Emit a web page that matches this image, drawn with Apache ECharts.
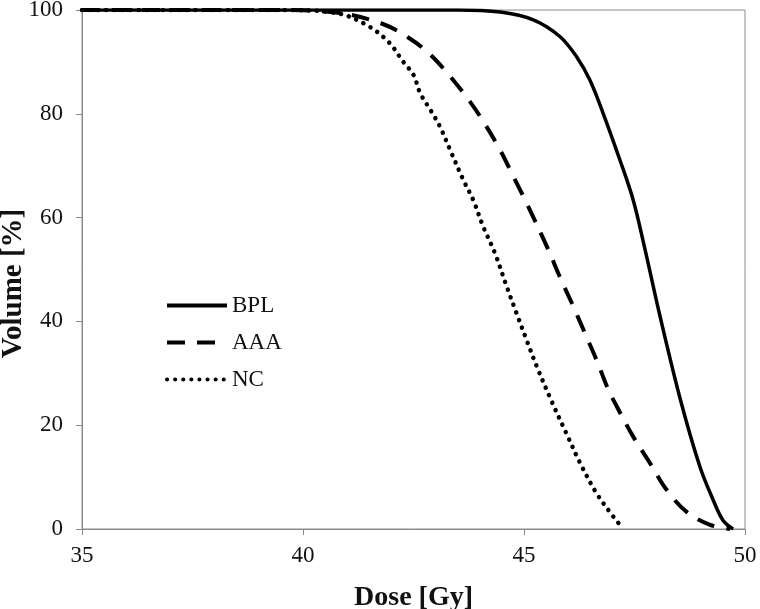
<!DOCTYPE html>
<html>
<head>
<meta charset="utf-8">
<script src="https://cdn.jsdelivr.net/npm/echarts@6/dist/echarts.min.js"></script>
<style>html,body{margin:0;padding:0;background:#fff}#c{width:760px;height:609px}</style>
</head>
<body>
<div id="c"></div>
<script>
const xTicks = [35, 40, 45, 50];
const yTicks = [0, 20, 40, 60, 80, 100];
const seriesNames = ['BPL', 'AAA', 'NC'];

const doseBPL = [35, 43.5, 44.46, 45.21, 45.81, 46.19, 46.49, 46.79, 47.17, 47.47, 47.74, 48.08, 48.53, 48.98, 49.28, 49.50, 49.73];
const volBPL  = [100, 100, 99.6, 98.1, 94.9, 91.0, 86.5, 80.1, 71.1, 63.4, 53.8, 40.9, 25.2, 12.0, 5.6, 1.7, 0];

const doseAAA = [35, 39.5, 40.84, 41.78, 42.38, 42.87, 43.29, 43.72, 44.06, 44.46, 44.76, 45.06, 45.55, 45.81, 46.12, 46.38, 46.64, 46.91, 47.10, 47.47, 47.85, 48.23, 48.68, 49.21, 49.66];
const volAAA  = [100, 100, 99.4, 97.4, 94.7, 91.5, 87.6, 83.0, 78.8, 73.0, 67.9, 62.8, 53.8, 48.6, 42.8, 37.7, 32.6, 26.8, 23.6, 17.8, 12.7, 7.5, 3.3, 0.8, 0];

const doseNC = [35, 39.5, 40.76, 41.44, 41.93, 42.27, 42.50, 42.65, 42.90, 43.10, 43.33, 43.63, 43.85, 44.08, 44.34, 44.61, 44.83, 45.06, 45.29, 45.62, 45.96, 46.27, 46.64, 47.02, 47.25];
const volNC  = [100, 100, 99.4, 97.1, 93.9, 90.0, 87.5, 84.0, 80.5, 77.5, 73.0, 67.2, 63.4, 58.2, 53.2, 46.7, 41.6, 36.4, 31.3, 24.7, 18.4, 12.7, 6.9, 2.4, 0];

function pairs(xs, ys) { return xs.map((x, i) => [x, ys[i]]); }

const font = '"Liberation Serif", "Times New Roman", serif';
const chart = echarts.init(document.getElementById('c'), null, { renderer: 'canvas' });
chart.setOption({
  animation: false,
  backgroundColor: '#fff',
  grid: { left: 82, right: 15, top: 10, bottom: 80, show: true, borderColor: '#8a8a8a', borderWidth: 1, containLabel: false, outerBoundsMode: 'none' },
  legend: {
    orient: 'vertical', left: 160, top: 289, itemWidth: 60, itemHeight: 14, itemGap: 14,
    data: seriesNames,
    itemStyle: { opacity: 0 },
    lineStyle: { width: 4 },
    textStyle: { fontFamily: font, fontSize: 23, color: '#111' }
  },
  xAxis: {
    type: 'value', min: xTicks[0], max: xTicks[xTicks.length - 1], interval: 5,
    name: 'Dose [Gy]', nameLocation: 'middle', nameGap: 55, nameMoveOverlap: false,
    nameTextStyle: { fontFamily: font, fontSize: 28, fontWeight: 'bold', color: '#111' },
    axisLine: { lineStyle: { color: '#8a8a8a', width: 1 } },
    axisTick: { show: true, inside: false, length: 6, lineStyle: { color: '#8a8a8a' } },
    axisLabel: { fontFamily: font, fontSize: 23, color: '#111', margin: 15 },
    splitLine: { show: false }
  },
  yAxis: {
    type: 'value', min: yTicks[0], max: yTicks[yTicks.length - 1], interval: 20,
    name: 'Volume [%]', nameLocation: 'middle', nameGap: 54, nameMoveOverlap: false,
    nameTextStyle: { fontFamily: font, fontSize: 29, fontWeight: 'bold', color: '#111', padding: [0, 28, 0, 0] },
    axisLine: { show: true, lineStyle: { color: '#8a8a8a', width: 1 } },
    axisTick: { show: true, inside: false, length: 6, lineStyle: { color: '#8a8a8a' } },
    axisLabel: { fontFamily: font, fontSize: 23, color: '#111', margin: 19 },
    splitLine: { show: false }
  },
  series: [
    { name: 'BPL', type: 'line', data: pairs(doseBPL, volBPL), smooth: 0.35, symbol: 'none', showSymbol: false,
      lineStyle: { color: '#000', width: 3.5, type: 'solid' }, itemStyle: { color: '#000' }, z: 3 },
    { name: 'AAA', type: 'line', data: pairs(doseAAA, volAAA), smooth: 0.35, symbol: 'none', showSymbol: false,
      lineStyle: { color: '#000', width: 4, type: [18, 12] }, itemStyle: { color: '#000' }, z: 2 },
    { name: 'NC', type: 'line', data: pairs(doseNC, volNC), smooth: 0.35, symbol: 'none', showSymbol: false,
      lineStyle: { color: '#000', width: 4.5, type: [0.1, 8], cap: 'round' }, itemStyle: { color: '#000' }, z: 2 }
  ]
});
</script>
</body>
</html>
